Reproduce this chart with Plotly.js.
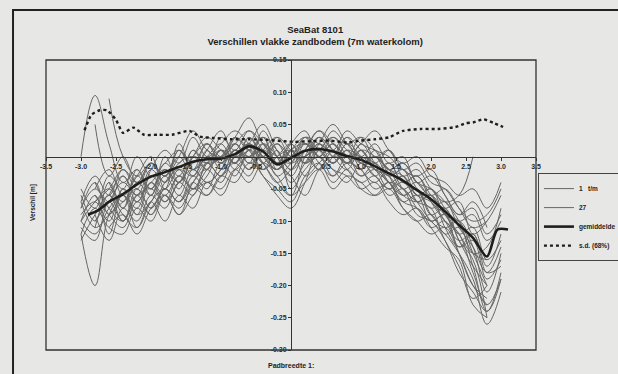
<!DOCTYPE html>
<html>
<head>
<meta charset="utf-8">
<script src="https://cdn.plot.ly/plotly-3.0.1.min.js"></script>
<style>html,body{margin:0;padding:0;background:#e7e7e5;}#chart{width:618px;height:374px;}</style>
</head>
<body>
<div id="chart"></div>
<script>
// Shared x positions (Padbreedte) for the 27 measured profiles
const X = [-3.0,-2.8,-2.6,-2.4,-2.2,-2.0,-1.8,-1.6,-1.4,-1.2,-1.0,-0.8,-0.6,-0.4,-0.2,0.0,0.2,0.4,0.6,0.8,1.0,1.2,1.4,1.6,1.8,2.0,2.2,2.4,2.6,2.8,3.0];

const S1  = [0.000,0.095,0.020,-0.040,-0.020,-0.050,-0.020,-0.040,0.000,0.020,-0.010,0.030,0.010,0.030,-0.020,0.010,0.020,0.000,0.030,0.010,-0.010,0.000,-0.030,-0.020,-0.060,-0.050,-0.090,-0.100,-0.150,-0.200,null];
const S2  = [-0.120,-0.200,-0.090,-0.060,-0.080,-0.030,-0.050,-0.020,-0.030,0.010,-0.020,0.000,0.020,-0.010,-0.040,-0.060,0.000,0.030,0.010,-0.010,0.010,-0.020,-0.010,-0.040,-0.030,-0.070,-0.100,-0.120,-0.180,-0.230,-0.190];
const S3  = [null,null,0.090,0.000,-0.030,-0.010,-0.040,0.010,-0.020,0.000,0.020,-0.010,0.030,0.000,-0.020,0.010,0.030,0.010,-0.010,0.020,0.000,-0.030,-0.010,-0.040,-0.030,-0.060,-0.080,-0.070,-0.120,-0.100,-0.060];
const S4  = [-0.100,-0.060,-0.120,-0.050,-0.090,-0.040,-0.070,-0.030,-0.050,-0.020,0.000,0.020,-0.010,0.040,0.000,-0.030,0.010,0.040,0.020,0.000,-0.020,0.010,-0.030,-0.060,-0.050,-0.090,-0.080,-0.130,-0.160,-0.250,null];
const S5  = [-0.060,-0.100,-0.040,-0.080,-0.020,-0.060,0.000,-0.040,0.010,-0.020,0.030,0.010,0.040,0.010,-0.010,0.020,-0.010,0.030,0.000,0.030,-0.010,-0.020,-0.050,-0.030,-0.070,-0.060,-0.110,-0.140,-0.120,-0.180,-0.140];
const S6  = [null,-0.090,-0.130,-0.080,-0.100,-0.060,-0.080,-0.040,-0.060,-0.010,-0.030,0.010,0.000,0.030,-0.010,0.020,0.040,0.000,0.020,-0.010,0.010,-0.020,-0.040,-0.070,-0.080,-0.110,-0.100,-0.150,-0.200,-0.220,null];
const S7  = [-0.110,-0.130,-0.070,-0.100,-0.060,-0.090,-0.050,-0.070,-0.030,-0.050,-0.010,-0.030,0.010,-0.010,-0.040,-0.020,0.000,-0.020,0.010,-0.020,-0.040,-0.030,-0.060,-0.050,-0.080,-0.100,-0.090,-0.140,-0.130,-0.190,-0.160];
const S8  = [null,-0.050,-0.020,-0.060,-0.030,0.000,-0.050,0.020,-0.020,0.010,0.040,0.000,0.020,0.050,0.010,-0.020,0.020,0.010,0.040,0.020,0.030,0.000,0.010,-0.030,-0.020,-0.050,-0.070,-0.060,0.000,null,null];
const S9  = [-0.080,-0.040,-0.090,-0.060,-0.110,-0.070,-0.100,-0.060,-0.080,-0.040,-0.060,-0.020,0.000,-0.030,-0.050,-0.070,-0.030,-0.010,-0.040,-0.020,-0.050,-0.060,-0.040,-0.080,-0.100,-0.090,-0.130,-0.170,-0.220,-0.200,null];
const S10 = [null,null,-0.060,-0.030,-0.070,-0.020,0.010,-0.010,0.030,0.000,0.020,0.040,0.020,0.000,0.030,0.010,-0.010,0.020,0.050,0.020,0.000,0.020,-0.010,0.000,-0.040,-0.030,-0.060,-0.090,-0.080,-0.120,-0.090];
const S11 = [-0.120,-0.080,-0.110,-0.120,-0.080,-0.100,-0.060,-0.090,-0.040,-0.020,-0.040,0.000,-0.020,0.020,0.000,-0.040,-0.010,0.020,-0.010,0.010,-0.020,-0.040,-0.020,-0.050,-0.070,-0.080,-0.120,-0.110,-0.170,-0.240,-0.180];
const S12 = [null,0.050,-0.030,0.000,-0.040,-0.010,-0.030,0.000,0.040,0.010,0.000,0.030,0.060,0.020,0.000,-0.010,0.030,0.000,0.020,0.000,0.030,0.010,-0.020,-0.010,-0.040,-0.060,-0.050,-0.080,-0.110,-0.100,null];
const S13 = [-0.130,-0.090,-0.060,-0.100,-0.050,-0.080,-0.040,-0.020,-0.050,-0.030,0.010,-0.010,0.010,-0.020,0.010,-0.050,-0.020,0.000,-0.030,0.000,-0.030,-0.010,-0.040,-0.060,-0.050,-0.090,-0.110,-0.100,-0.140,-0.210,-0.150];
const S14 = [null,-0.070,-0.050,-0.020,-0.050,-0.010,-0.030,0.010,-0.010,0.020,-0.010,0.010,-0.020,0.010,0.030,0.000,0.010,-0.020,0.000,0.030,0.010,-0.010,0.010,-0.020,-0.030,-0.020,-0.060,-0.090,-0.070,-0.110,null];
const S15 = [-0.100,-0.120,-0.080,-0.060,-0.090,-0.070,-0.030,-0.060,-0.020,-0.040,-0.020,0.020,0.000,0.010,-0.030,-0.010,0.020,0.000,-0.020,-0.040,-0.010,-0.030,-0.050,-0.040,-0.070,-0.100,-0.120,-0.150,-0.190,-0.260,-0.210];
const S16 = [null,null,-0.040,-0.070,-0.030,-0.050,-0.010,-0.030,0.010,-0.010,0.000,0.030,0.010,-0.020,0.000,0.020,-0.010,0.010,0.030,0.000,-0.020,0.000,-0.020,-0.030,-0.060,-0.070,-0.100,-0.130,-0.120,-0.170,-0.120];
const S17 = [-0.070,-0.110,-0.090,-0.070,-0.050,-0.080,-0.050,-0.070,-0.040,-0.010,-0.030,0.000,0.020,0.000,-0.020,0.010,-0.030,-0.010,0.010,-0.010,0.000,-0.020,-0.030,-0.060,-0.070,-0.060,-0.090,-0.120,-0.150,-0.140,-0.080];
const S18 = [null,-0.100,-0.070,-0.040,-0.060,-0.020,-0.040,-0.010,0.000,-0.020,0.010,-0.020,0.000,-0.030,-0.060,-0.080,-0.040,0.010,-0.010,0.020,-0.010,0.000,-0.020,-0.010,-0.040,-0.050,-0.070,-0.100,-0.150,-0.160,null];
const S19 = [-0.090,-0.070,-0.100,-0.050,-0.070,-0.040,-0.060,-0.030,-0.050,-0.010,0.010,-0.010,0.030,0.000,0.020,-0.010,0.010,0.040,0.010,-0.010,0.020,-0.010,-0.030,-0.020,-0.050,-0.080,-0.070,-0.110,-0.140,-0.180,-0.170];
const S20 = [null,-0.060,-0.090,-0.110,-0.070,-0.090,-0.060,-0.080,-0.050,-0.060,-0.030,-0.040,-0.010,-0.020,0.000,0.010,-0.010,0.000,-0.020,-0.030,-0.050,-0.040,-0.070,-0.090,-0.080,-0.110,-0.140,-0.160,-0.230,-0.250,null];
const S21 = [-0.050,-0.080,-0.030,-0.050,0.000,-0.030,-0.010,0.010,-0.020,0.020,0.000,0.020,0.040,0.020,-0.010,0.000,0.030,0.020,0.010,0.040,0.020,0.010,0.000,-0.020,-0.010,-0.040,-0.050,-0.080,-0.100,-0.090,-0.050];
const S22 = [null,null,-0.110,-0.090,-0.120,-0.080,-0.060,-0.090,-0.060,-0.040,-0.050,-0.020,-0.040,-0.010,-0.030,-0.060,-0.040,-0.020,-0.050,-0.030,-0.040,-0.060,-0.050,-0.080,-0.100,-0.120,-0.110,-0.150,-0.200,-0.230,null];
const S23 = [-0.080,-0.050,-0.070,-0.030,-0.060,-0.040,-0.020,-0.050,0.000,-0.010,0.010,0.000,0.010,0.030,0.010,-0.020,0.000,0.010,-0.010,0.010,0.000,-0.010,-0.040,-0.030,-0.060,-0.050,-0.080,-0.100,-0.090,-0.130,-0.100];
const S24 = [null,-0.040,-0.080,-0.100,-0.060,-0.050,-0.070,-0.040,-0.020,-0.040,-0.020,0.010,-0.010,0.000,-0.020,0.000,0.020,-0.010,-0.030,-0.010,-0.020,-0.050,-0.040,-0.050,-0.090,-0.100,-0.130,-0.180,-0.210,-0.240,-0.190];
const S25 = [-0.100,-0.070,-0.050,-0.080,-0.040,-0.060,-0.020,-0.040,0.000,0.030,0.010,-0.010,0.020,-0.010,0.020,0.000,0.000,0.020,0.000,-0.020,0.010,0.000,-0.020,-0.050,-0.040,-0.070,-0.090,-0.120,-0.110,-0.160,-0.130];
const S26 = [null,-0.110,-0.060,-0.090,-0.110,-0.070,-0.050,-0.070,-0.040,-0.060,-0.030,-0.010,-0.030,0.010,-0.010,-0.030,-0.060,-0.020,0.000,-0.010,-0.030,-0.020,-0.040,-0.070,-0.060,-0.100,-0.090,-0.130,-0.170,-0.200,null];
const S27 = [-0.070,-0.030,-0.060,-0.020,-0.040,-0.010,-0.030,0.000,-0.030,0.000,-0.010,0.010,0.000,0.020,-0.010,0.010,0.000,0.030,0.010,0.000,0.020,0.040,0.010,-0.010,0.000,-0.030,-0.040,-0.060,-0.050,-0.080,-0.040];

// Mean ("gemiddelde") and standard deviation ("s.d. (68%)")
const MEAN_X = [-2.9,-2.75,-2.6,-2.4,-2.2,-2.0,-1.8,-1.6,-1.4,-1.2,-1.0,-0.8,-0.6,-0.4,-0.2,0.0,0.2,0.4,0.6,0.8,1.0,1.2,1.4,1.6,1.8,2.0,2.2,2.4,2.6,2.8,2.95,3.1];
const MEAN_Y = [-0.090,-0.083,-0.070,-0.058,-0.043,-0.031,-0.024,-0.016,-0.008,-0.004,-0.003,0.004,0.016,0.008,-0.012,-0.002,0.009,0.012,0.008,0.001,-0.005,-0.015,-0.026,-0.037,-0.052,-0.066,-0.085,-0.106,-0.126,-0.155,-0.113,-0.113];
const SD_X = [-2.95,-2.85,-2.73,-2.63,-2.5,-2.4,-2.25,-2.1,-1.9,-1.7,-1.45,-1.3,-1.1,-0.85,-0.6,-0.35,-0.1,0.05,0.3,0.55,0.8,1.0,1.2,1.4,1.6,1.85,2.1,2.35,2.5,2.6,2.75,2.9,3.03];
const SD_Y = [0.041,0.065,0.072,0.072,0.057,0.037,0.045,0.034,0.034,0.034,0.040,0.031,0.029,0.027,0.027,0.026,0.024,0.023,0.024,0.025,0.022,0.025,0.027,0.030,0.040,0.043,0.043,0.046,0.052,0.053,0.058,0.052,0.046];

const X_TICKS = [-3.5,-3.0,-2.5,-2.0,-1.5,-1.0,-0.5,0.5,1.0,1.5,2.0,2.5,3.0,3.5];
const Y_TICKS = [0.15,0.10,0.05,-0.05,-0.10,-0.15,-0.20,-0.25,-0.30];

const SERIES = [S1,S2,S3,S4,S5,S6,S7,S8,S9,S10,S11,S12,S13,S14,S15,S16,S17,S18,S19,S20,S21,S22,S23,S24,S25,S26,S27];

const FONT = 'Liberation Sans, Arial, sans-serif';
const traces = [];
SERIES.forEach(function(s, i){
  let nm = '', show = false, rank = 1000;
  if (i === 0) { nm = '1   t/m'; show = true; rank = 1; }
  if (i === 26) { nm = '27'; show = true; rank = 2; }
  traces.push({
    type: 'scatter', mode: 'lines', x: X, y: s, name: nm || ('Serie ' + (i+1)),
    showlegend: show, legendrank: rank,
    line: {color: '#666666', width: 1, shape: 'spline', smoothing: 1.1},
    connectgaps: false, hoverinfo: 'skip'
  });
});
traces.push({type:'scatter', mode:'lines', x: MEAN_X, y: MEAN_Y, name:'gemiddelde', legendrank: 3,
  line:{color:'#1e1e1e', width:2.6, shape:'spline', smoothing:0.8}});
traces.push({type:'scatter', mode:'lines', x: SD_X, y: SD_Y, name:'s.d. (68%)', legendrank: 4,
  line:{color:'#1e1e1e', width:2.4, dash:'dot', shape:'spline', smoothing:0.6}});

const bg = '#e7e7e5';
const tf = {family: FONT, size: 7, color: '#2a2a2a', weight: 'bold'};
const layout = {
  width: 618, height: 374,
  paper_bgcolor: bg, plot_bgcolor: bg,
  margin: {l: 46, r: 82, t: 60, b: 24, autoexpand: false},
  font: {family: FONT, size: 7, color: '#2a2a2a'},
  title: {text: '<b>SeaBat 8101</b><br><b>Verschillen vlakke zandbodem (7m waterkolom)</b>',
    font: {family: FONT, size: 9.5, color: '#222'}, xref: 'container', x: 0.51, xanchor: 'center',
    yref: 'container', y: 0.912, yanchor: 'top'},
  xaxis: {range: [-3.5, 3.5], anchor: 'free', position: 0.6667, tickvals: X_TICKS,
    ticktext: X_TICKS.map(v => v.toFixed(1)), ticks: 'outside', ticklen: 3, tickcolor: '#333',
    showline: true, linecolor: '#333', linewidth: 1.2, showgrid: false, zeroline: false,
    tickfont: tf},
  yaxis: {range: [-0.30, 0.15], anchor: 'free', position: 0.5, tickvals: Y_TICKS,
    ticktext: Y_TICKS.map(v => v.toFixed(2)), ticks: 'outside', ticklen: 3, tickcolor: '#333',
    showline: true, linecolor: '#333', linewidth: 1.2, showgrid: false, zeroline: false,
    tickfont: tf},
  showlegend: true,
  legend: {x: 1.004, xanchor: 'left', y: 0.61, yanchor: 'top', bgcolor: bg,
    bordercolor: '#444', borderwidth: 1, font: {family: FONT, size: 6.5, color: '#222', weight: 'bold'},
    tracegroupgap: 0, itemwidth: 30},
  shapes: [
    {type: 'rect', xref: 'paper', yref: 'paper', x0: 0, x1: 1, y0: 0, y1: 1,
      line: {color: '#333', width: 1.3}, layer: 'above'},
    {type: 'rect', xref: 'paper', yref: 'paper', x0: -0.0673, x1: 1.175, y0: -0.09, y1: 1.172,
      line: {color: '#222', width: 2}}
  ],
  annotations: [
    {text: '<b>Verschil [m]</b>', xref: 'paper', yref: 'paper', x: -0.039, y: 0.51,
      textangle: -90, showarrow: false, font: {family: FONT, size: 6.5, color: '#222'}},
    {text: '<b>Padbreedte 1:</b>', xref: 'paper', yref: 'paper', x: 0.5, y: -0.052,
      yanchor: 'middle', showarrow: false, font: {family: FONT, size: 7, color: '#222'}}
  ]
};

Plotly.newPlot('chart', traces, layout, {staticPlot: true, displayModeBar: false});
</script>
</body>
</html>
